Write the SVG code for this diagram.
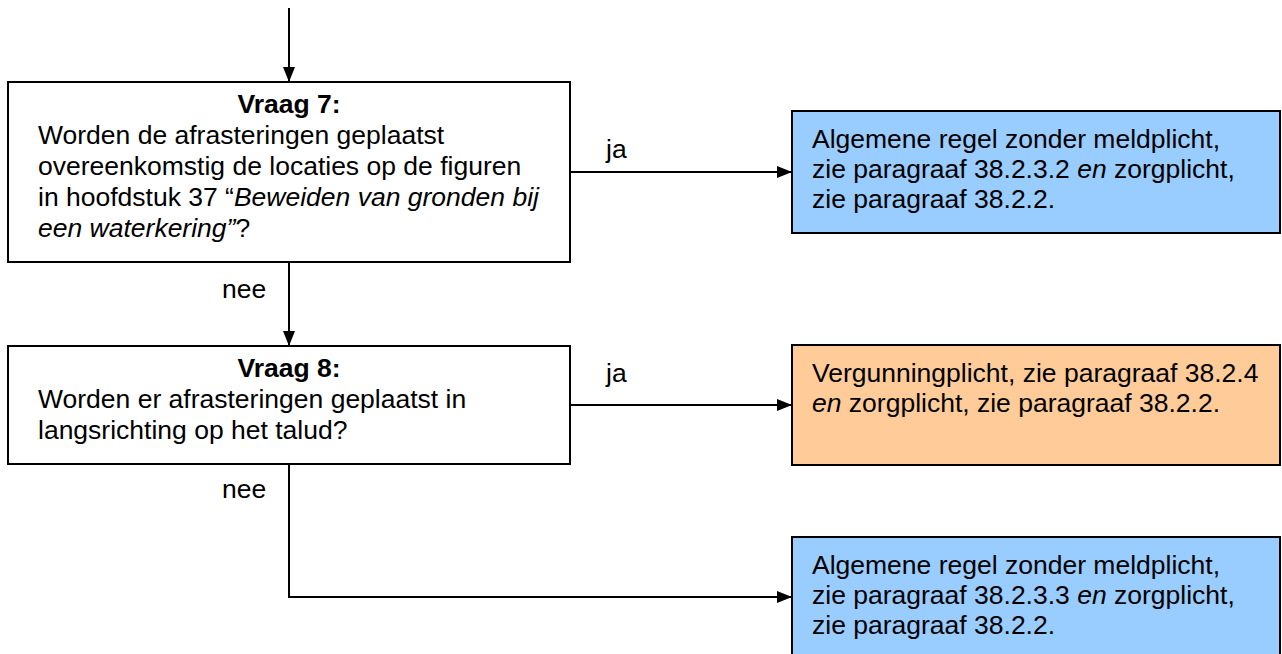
<svg xmlns="http://www.w3.org/2000/svg" width="1282" height="654" viewBox="0 0 1282 654">
<style>
text{font-family:"Liberation Sans",Arial,sans-serif;font-size:26.5px;fill:#000}
.b{font-weight:bold}
.i{font-style:italic}
.q{fill:#fff;stroke:#000;stroke-width:2}
.blue{fill:#99CCFF;stroke:#000;stroke-width:2}
.orange{fill:#FFCC99;stroke:#000;stroke-width:2}
.c{fill:none;stroke:#000;stroke-width:2}
</style>
<defs>
<marker id="ah" viewBox="0 0 15 12" refX="15" refY="6" markerWidth="15" markerHeight="12" markerUnits="userSpaceOnUse" orient="auto">
<path d="M0,0 L15,6 L0,12 Z" fill="#000"/>
</marker>
</defs>
<g id="connectors">
<path class="c" d="M289,8 V82" marker-end="url(#ah)"/>
<path class="c" d="M570,172 H792" marker-end="url(#ah)"/>
<path class="c" d="M289,262 V346" marker-end="url(#ah)"/>
<path class="c" d="M570,405 H792" marker-end="url(#ah)"/>
<path class="c" d="M289,464 V597 H792" marker-end="url(#ah)"/>
<text x="606" y="158">ja</text>
<text x="222" y="298">nee</text>
<text x="606" y="382">ja</text>
<text x="222" y="498">nee</text>
</g>
<g id="q7">
<rect class="q" x="8" y="82" width="562" height="180"/>
<text class="b" x="289" y="113" text-anchor="middle">Vraag 7:</text>
<text x="38" y="144">Worden de afrasteringen geplaatst</text>
<text x="38" y="175">overeenkomstig de locaties op de figuren</text>
<text x="38" y="206">in hoofdstuk 37 “<tspan class="i">Beweiden van gronden bij</tspan></text>
<text x="38" y="237"><tspan class="i">een waterkering”</tspan>?</text>
</g>
<g id="r1">
<rect class="blue" x="792" y="111" width="488" height="122"/>
<text x="812" y="148">Algemene regel zonder meldplicht,</text>
<text x="812" y="178">zie paragraaf 38.2.3.2 <tspan class="i">en</tspan> zorgplicht,</text>
<text x="812" y="208">zie paragraaf 38.2.2.</text>
</g>
<g id="q8">
<rect class="q" x="8" y="346" width="562" height="118"/>
<text class="b" x="289" y="377" text-anchor="middle">Vraag 8:</text>
<text x="38" y="408">Worden er afrasteringen geplaatst in</text>
<text x="38" y="439">langsrichting op het talud?</text>
</g>
<g id="r2">
<rect class="orange" x="792" y="345" width="488" height="120"/>
<text x="812" y="382">Vergunningplicht, zie paragraaf 38.2.4</text>
<text x="812" y="412"><tspan class="i">en</tspan> zorgplicht, zie paragraaf 38.2.2.</text>
</g>
<g id="r3">
<rect class="blue" x="792" y="537" width="488" height="122"/>
<text x="812" y="574">Algemene regel zonder meldplicht,</text>
<text x="812" y="604">zie paragraaf 38.2.3.3 <tspan class="i">en</tspan> zorgplicht,</text>
<text x="812" y="634">zie paragraaf 38.2.2.</text>
</g>
</svg>
